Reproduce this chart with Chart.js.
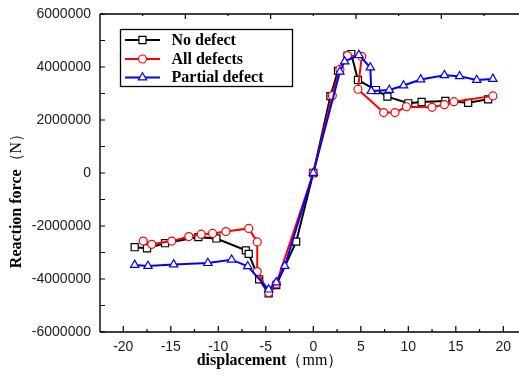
<!DOCTYPE html>
<html><head><meta charset="utf-8">
<script src="https://cdn.jsdelivr.net/npm/chart.js@4.4.1/dist/chart.umd.min.js"></script>
<style>html,body{margin:0;padding:0;background:#fff}#wrap{width:519px;height:382px;position:relative}</style>
</head><body><div id="wrap"><canvas id="c"></canvas></div>
<script>
const seriesNames = ['No defect', 'All defects', 'Partial defect'];
const seriesColors = ['#000000', '#ff0000', '#0000ff'];
const seriesShapes = ['rect', 'circle', 'triangle'];

const noDefectX = [-18.8,-17.5,-15.6,-12.1,-10.2,-7.1,-6.8,-5.7,-4.7,-3.9,-1.8,0,1.8,2.6,3.6,4.0,4.7,6.6,7.8,10.0,11.4,13.9,16.3,18.4];
const noDefectY = [-2800000,-2840000,-2650000,-2420000,-2470000,-2920000,-3050000,-4010000,-4540000,-4230000,-2590000,0,2900000,3850000,4430000,4490000,3510000,3130000,2880000,2630000,2680000,2720000,2650000,2780000];

const allDefectsX = [-17.9,-17.0,-14.9,-13.1,-11.8,-10.6,-9.2,-6.8,-5.9,-5.9,-4.7,-3.9,0,2.0,2.8,3.6,5.1,4.7,7.4,8.6,9.8,12.5,13.8,14.8,18.9];
const allDefectsY = [-2570000,-2690000,-2570000,-2400000,-2310000,-2280000,-2210000,-2090000,-2600000,-3720000,-4510000,-4180000,0,2920000,3910000,4430000,4400000,3160000,2280000,2280000,2500000,2480000,2580000,2690000,2910000];

const partialX = [-18.8,-17.4,-14.7,-11.1,-8.6,-6.9,-4.7,-3.9,-3.0,0,2.8,3.3,4.8,6.0,6.1,8.0,9.5,11.3,13.8,15.4,17.2,18.9];
const partialY = [-3470000,-3510000,-3450000,-3400000,-3270000,-3520000,-4400000,-4130000,-3510000,0,3820000,4210000,4450000,3980000,3090000,3130000,3300000,3530000,3690000,3650000,3510000,3550000];

const xTickLabels = [-20,-15,-10,-5,0,5,10,15,20];
const yTickLabels = [-6000000,-4000000,-2000000,0,2000000,4000000,6000000];
const xTitle = ['displacement', '（mm）'];
const yTitle = ['Reaction force', '（N）'];

const X_MIN = -22.45, X_MAX = 21.65;
const TOP_TICK_STEP = 4.49;

function toPts(xs, ys){ return xs.map((x,i)=>({x:x, y:ys[i]})); }

function drawMarker(ctx, shape, x, y, r, color){
  ctx.save();
  ctx.fillStyle = '#fff'; ctx.strokeStyle = color; ctx.lineWidth = 1.2;
  ctx.beginPath();
  if (shape === 'rect') { const s = r*Math.SQRT1_2; ctx.rect(x-s, y-s, 2*s, 2*s); }
  else if (shape === 'circle') { ctx.arc(x, y, r, 0, Math.PI*2); }
  else { let a = 0; ctx.moveTo(x+Math.sin(a)*r, y-Math.cos(a)*r); a += 2*Math.PI/3; ctx.lineTo(x+Math.sin(a)*r, y-Math.cos(a)*r); a += 2*Math.PI/3; ctx.lineTo(x+Math.sin(a)*r, y-Math.cos(a)*r); ctx.closePath(); }
  ctx.fill(); ctx.stroke();
  ctx.restore();
}

const radii = [5, 4, 4.8];

const framePlugin = {
  id: 'frame',
  afterDraw(chart){
    const ctx = chart.ctx, a = chart.chartArea, xs = chart.scales.x, ys = chart.scales.y;
    ctx.save();
    ctx.strokeStyle = '#000'; ctx.lineWidth = 1.4;
    ctx.beginPath();
    ctx.moveTo(a.left, a.top); ctx.lineTo(a.right, a.top);
    ctx.moveTo(a.left, a.top); ctx.lineTo(a.left, a.bottom);
    ctx.moveTo(a.left, a.bottom); ctx.lineTo(a.right, a.bottom);
    ctx.stroke();
    ctx.lineWidth = 1.2;
    ctx.beginPath();
    for (let v = -20; v <= 20; v += 2.5) {
      const px = xs.getPixelForValue(v); const len = (v % 5 === 0) ? 6 : 3;
      ctx.moveTo(px, a.bottom); ctx.lineTo(px, a.bottom - len);
    }
    for (let k = 1; k <= 9; k++) {
      const px = xs.getPixelForValue(X_MIN + k*TOP_TICK_STEP); const len = (k % 2 === 0) ? 5 : 2;
      ctx.moveTo(px, a.top); ctx.lineTo(px, a.top + len);
    }
    for (let v = -6000000; v <= 6000000; v += 1000000) {
      const py = ys.getPixelForValue(v); const len = 5;
      ctx.moveTo(a.left, py); ctx.lineTo(a.left + len, py);
    }
    ctx.stroke();

    // legend
    const lx = 120, ly = 29, lw = 172, lh = 57;
    ctx.fillStyle = '#fff'; ctx.fillRect(lx, ly, lw, lh);
    ctx.strokeStyle = '#000'; ctx.lineWidth = 1.3; ctx.strokeRect(lx+0.5, ly+0.5, lw, lh);
    const rows = [40, 59, 77.5];
    ctx.font = 'bold 16px "Liberation Serif", serif';
    ctx.textBaseline = 'middle'; ctx.textAlign = 'left';
    for (let i = 0; i < 3; i++) {
      const yy = rows[i];
      ctx.strokeStyle = seriesColors[i]; ctx.lineWidth = 2;
      ctx.beginPath(); ctx.moveTo(125, yy); ctx.lineTo(160, yy); ctx.stroke();
      drawMarker(ctx, seriesShapes[i], 142.5, yy, radii[i], seriesColors[i]);
      ctx.fillStyle = '#000';
      ctx.fillText(seriesNames[i], 171.5, yy + 0.5);
    }

    // x title
    ctx.fillStyle = '#000';
    ctx.font = 'bold 16px "Liberation Serif", serif';
    const w1 = ctx.measureText(xTitle[0]).width;
    ctx.font = '16px "Liberation Serif", serif';
    const w2 = ctx.measureText(xTitle[1]).width;
    let sx = 270 - (w1 + w2)/2;
    ctx.textAlign = 'left'; ctx.textBaseline = 'middle';
    ctx.font = 'bold 16px "Liberation Serif", serif'; ctx.fillText(xTitle[0], sx, 361);
    ctx.font = '16px "Liberation Serif", serif'; ctx.fillText(xTitle[1], sx + w1, 361);

    // y title
    ctx.save();
    ctx.translate(17, 197); ctx.rotate(-Math.PI/2);
    ctx.font = 'bold 16px "Liberation Serif", serif';
    const v1 = ctx.measureText(yTitle[0]).width;
    ctx.font = '16px "Liberation Serif", serif';
    const v2 = ctx.measureText(yTitle[1]).width;
    let sy = -(v1 + v2)/2;
    ctx.font = 'bold 16px "Liberation Serif", serif'; ctx.fillText(yTitle[0], sy, 0);
    ctx.font = '16px "Liberation Serif", serif'; ctx.fillText(yTitle[1], sy + v1, 0);
    ctx.restore();

    ctx.restore();
  }
};

function ds(i, xs, ys, order){
  return {
    label: seriesNames[i], data: toPts(xs, ys),
    borderColor: seriesColors[i], backgroundColor: '#fff',
    pointStyle: seriesShapes[i], pointRadius: radii[i], pointBorderWidth: 1.2,
    pointBackgroundColor: '#fff', pointBorderColor: seriesColors[i],
    borderWidth: 2, tension: 0, fill: false, order: order
  };
}

const tickFont = {family: '"Liberation Sans", Arial, sans-serif', size: 14};

new Chart(document.getElementById('c'), {
  type: 'line',
  data: { datasets: [
    ds(0, noDefectX, noDefectY, 3),
    ds(1, allDefectsX, allDefectsY, 2),
    ds(2, partialX, partialY, 1)
  ]},
  options: {
    responsive: true, maintainAspectRatio: false, animation: false,
    layout: {autoPadding: false, padding: {top: 14, right: 0, left: 0, bottom: 0}},
    plugins: {legend: {display: false}, tooltip: {enabled: false}},
    scales: {
      x: {
        type: 'linear', min: X_MIN, max: X_MAX,
        grid: {display: false, drawTicks: false}, border: {display: false},
        afterBuildTicks: s => { s.ticks = xTickLabels.map(v => ({value: v})); },
        afterFit: s => { s.height = 50; s.paddingLeft = 0; s.paddingRight = 0; },
        ticks: {padding: 7, font: tickFont, color: '#1a1a1a', autoSkip: false, maxRotation: 0, callback: v => String(v)}
      },
      y: {
        type: 'linear', min: -6000000, max: 6000000,
        grid: {display: false, drawTicks: false}, border: {display: false},
        afterBuildTicks: s => { s.ticks = yTickLabels.map(v => ({value: v})); },
        afterFit: s => { s.width = 100; s.paddingTop = 0; s.paddingBottom = 0; },
        ticks: {padding: 9, font: tickFont, color: '#1a1a1a', autoSkip: false, callback: v => String(v)}
      }
    }
  },
  plugins: [framePlugin]
});
</script>
</body></html>
